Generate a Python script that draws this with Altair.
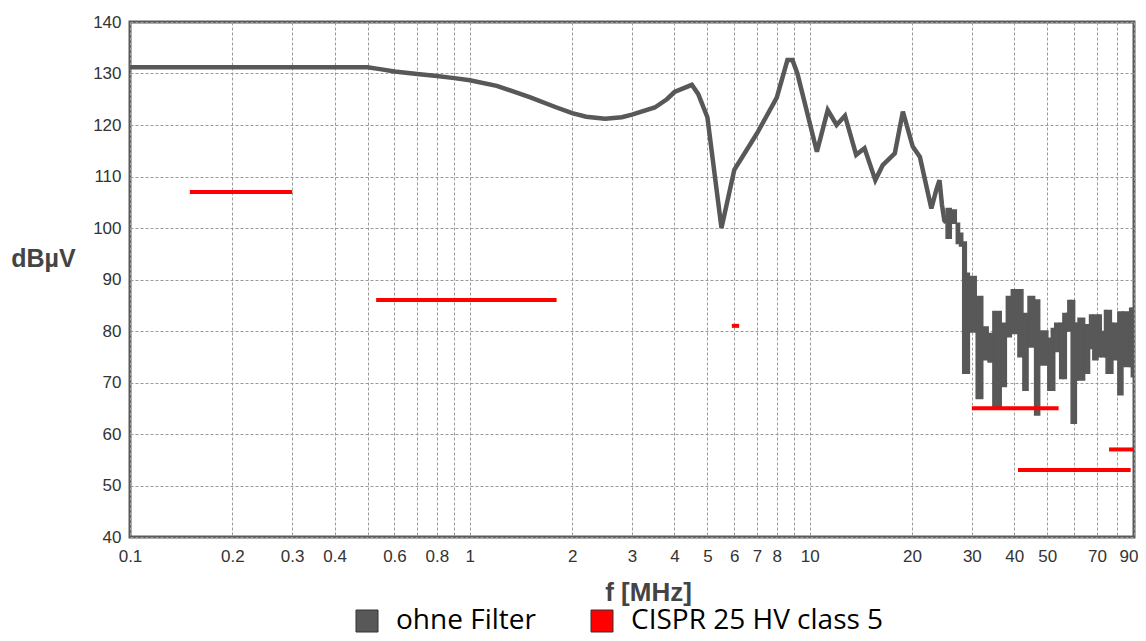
import altair as alt
import pandas as pd

freq_mhz = [0.1, 0.5, 0.55, 0.6, 0.7, 0.8, 0.9, 1.0, 1.2, 1.5, 1.8, 2.0, 2.2, 2.5, 2.8, 3.0,
            3.5, 3.8, 4.0, 4.5, 4.7, 5.0, 5.5, 6.0, 7.0, 8.0, 8.6, 8.9, 9.2, 10.5, 11.3, 12.0,
            12.7, 13.7, 14.5, 15.6, 16.4, 17.8, 18.8, 20.1, 21.1, 22.8, 23.6, 24.1, 24.5, 24.9,
            25.2]
level_dbuv = [131.2, 131.2, 130.8, 130.4, 129.9, 129.5, 129.1, 128.7, 127.6, 125.4, 123.4, 122.3,
              121.6, 121.2, 121.5, 122.0, 123.4, 125.0, 126.4, 127.8, 126.0, 121.5, 100.0, 111.3,
              118.4, 125.3, 132.6, 132.6, 130.0, 114.8, 122.9, 120.0, 121.8, 114.2, 115.5, 109.3,
              112.2, 114.5, 122.6, 115.8, 113.8, 103.8, 107.5, 109.3, 104.5, 101.5, 101.0]

# ---- noisy part above 25 MHz: upper / lower envelope per frequency step ----
# band_edges has one more entry than the envelopes: step i spans edges[i] .. edges[i+1]
band_edges = [25.2, 26.1, 27.0, 27.6, 28.2, 28.9, 29.5, 30.9, 32.3, 33.5, 34.6, 36.6, 37.9, 39.2,
              41.0, 42.4, 43.9, 45.9, 47.5, 50.2, 51.4, 52.6, 54.4, 55.6, 56.9, 57.5, 58.8, 60.2,
              60.9, 61.6, 64.4, 66.6, 68.1, 70.5, 72.1, 73.7, 74.5, 77.2, 78.0, 80.7, 83.5, 87.4,
              88.4, 90.0]
band_upper = [103.8, 103.5, 100.9, 99.0, 97.3, 91.2, 90.6, 86.7, 80.8, 79.5, 83.8, 81.5, 86.7,
              88.0, 88.0, 83.4, 86.7, 86.0, 80.0, 78.6, 80.5, 81.5, 81.5, 83.4, 83.4, 85.9, 85.9,
              81.5, 81.5, 82.5, 81.2, 83.1, 83.1, 83.1, 79.9, 84.0, 84.0, 81.5, 81.5, 83.7, 83.7,
              84.4, 84.4]
band_lower = [98.0, 100.9, 97.0, 96.5, 71.8, 71.8, 79.8, 66.9, 74.4, 74.0, 65.3, 69.2, 78.9,
              79.5, 75.0, 68.5, 76.9, 63.7, 73.4, 68.5, 68.5, 76.0, 70.8, 70.8, 80.0, 80.0, 62.1,
              62.1, 70.5, 70.5, 71.8, 76.6, 74.4, 75.0, 75.0, 75.0, 71.8, 71.8, 74.4, 67.6, 73.1,
              73.1, 71.1]

# ---- CISPR 25 HV class 5 limit segments ----
limit_start = [0.15, 0.53, 5.9, 30.0, 41.0, 76.0]
limit_end = [0.3, 1.8, 6.2, 54.0, 88.0, 90.0]
limit_level = [107, 86, 81, 65, 53, 57]

series_names = ["ohne Filter", "CISPR 25 HV class 5"]
series_colors = ["#585858", "#ff0000"]

x_grid = [0.1, 0.2, 0.3, 0.4, 0.5, 0.6, 0.7, 0.8, 0.9, 1, 2, 3, 4, 5, 6, 7, 8, 9,
          10, 20, 30, 40, 50, 60, 70, 80, 90]
x_labels = [0.1, 0.2, 0.3, 0.4, 0.6, 0.8, 1, 2, 3, 4, 5, 6, 7, 8, 10, 20, 30, 40, 50, 70, 90]
y_ticks = [40, 50, 60, 70, 80, 90, 100, 110, 120, 130, 140]

spec = pd.DataFrame({"f": freq_mhz, "v": level_dbuv})
band = pd.DataFrame({"f1": band_edges[:-1], "f2": band_edges[1:],
                     "hi": band_upper, "lo": band_lower})
lim = pd.DataFrame({"f1": limit_start, "f2": limit_end, "v": limit_level})
# legend carrier: one entry per series, placed outside the x domain and clipped away
keys = pd.DataFrame({"f": [0.01, 0.01], "v": [0, 0], "s": series_names})

label_list = "[" + ",".join(str(v) for v in x_labels) + "]"
label_expr = f"indexof({label_list}, datum.value) >= 0 ? format(datum.value, '~g') : ''"

xscale = alt.Scale(type="log", domain=[0.1, 90], nice=False)
yscale = alt.Scale(domain=[40, 140], nice=False)
cscale = alt.Scale(domain=series_names, range=series_colors)

legend = alt.Legend(
    title=None, orient="none", direction="horizontal", legendX=223, legendY=585,
    symbolType="square", symbolSize=484, labelFont="Open Sans", labelFontSize=28,
    labelColor="#000000", labelOffset=15, columnPadding=52, padding=0, labelLimit=600,
    symbolStrokeColor="#333333", symbolStrokeWidth=1, symbolOpacity=1,
)

last_tick = x_grid[-1]
xaxis = alt.Axis(values=x_grid, labelExpr=label_expr, title="f [MHz]", titleFontSize=26,
                 titleFont="Liberation Sans", titleFontWeight="bold", titleColor="#444444",
                 titleX=518, titleY=63, titleAlign="center", titleBaseline="alphabetic",
                 labelPadding=11, labelFlush=False,
                 labelAlign={"condition": {"test": f"datum.value == {last_tick}", "value": "right"},
                             "value": "center"},
                 labelOffset={"condition": {"test": f"datum.value == {last_tick}", "value": 4},
                              "value": 0})
yaxis = alt.Axis(values=y_ticks, title="dBµV", titleAngle=0, titleX=-87, titleY=236,
                 titleAlign="center", titleBaseline="middle", titleFontSize=25,
                 titleFont="Liberation Sans", titleFontWeight="bold", titleColor="#444444",
                 labelPadding=9)

key_marks = alt.Chart(keys).mark_square(filled=True, clip=True, size=1, opacity=1).encode(
    x=alt.X("f:Q", scale=xscale, axis=xaxis),
    y=alt.Y("v:Q", scale=yscale, axis=yaxis),
    color=alt.Color("s:N", scale=cscale, legend=legend),
)

line = alt.Chart(spec).mark_line(strokeWidth=4.5, clip=True, color=series_colors[0]).encode(
    x=alt.X("f:Q", scale=xscale),
    y=alt.Y("v:Q", scale=yscale),
    order=alt.Order("f:Q"),
)

noise = alt.Chart(band).mark_bar(clip=True, color=series_colors[0], opacity=1,
                                 stroke=series_colors[0], strokeWidth=1.5,
                                 cornerRadius=0).encode(
    x=alt.X("f1:Q", scale=xscale),
    x2="f2:Q",
    y=alt.Y("hi:Q", scale=yscale),
    y2="lo:Q",
)

rules = alt.Chart(lim).mark_rule(strokeWidth=4, strokeCap="butt", color=series_colors[1]).encode(
    x=alt.X("f1:Q", scale=xscale),
    x2="f2:Q",
    y=alt.Y("v:Q", scale=yscale),
)

chart = alt.layer(key_marks, line, noise, rules).properties(
    width=1004, height=515,
    autosize=alt.AutoSizeParams(type="none"),
    padding={"left": 122, "top": 14, "right": 4, "bottom": 96},
).configure_view(
    stroke="#5a5a5a", strokeWidth=3
).configure_axis(
    grid=True, gridColor="#9a9a9a", gridDash=[3, 2], gridWidth=1, domain=False, ticks=False,
    labelFont="Liberation Sans", labelFontSize=17, labelColor="#333333",
)

chart.save("out.html", embed_options={"renderer": "svg", "actions": False})
